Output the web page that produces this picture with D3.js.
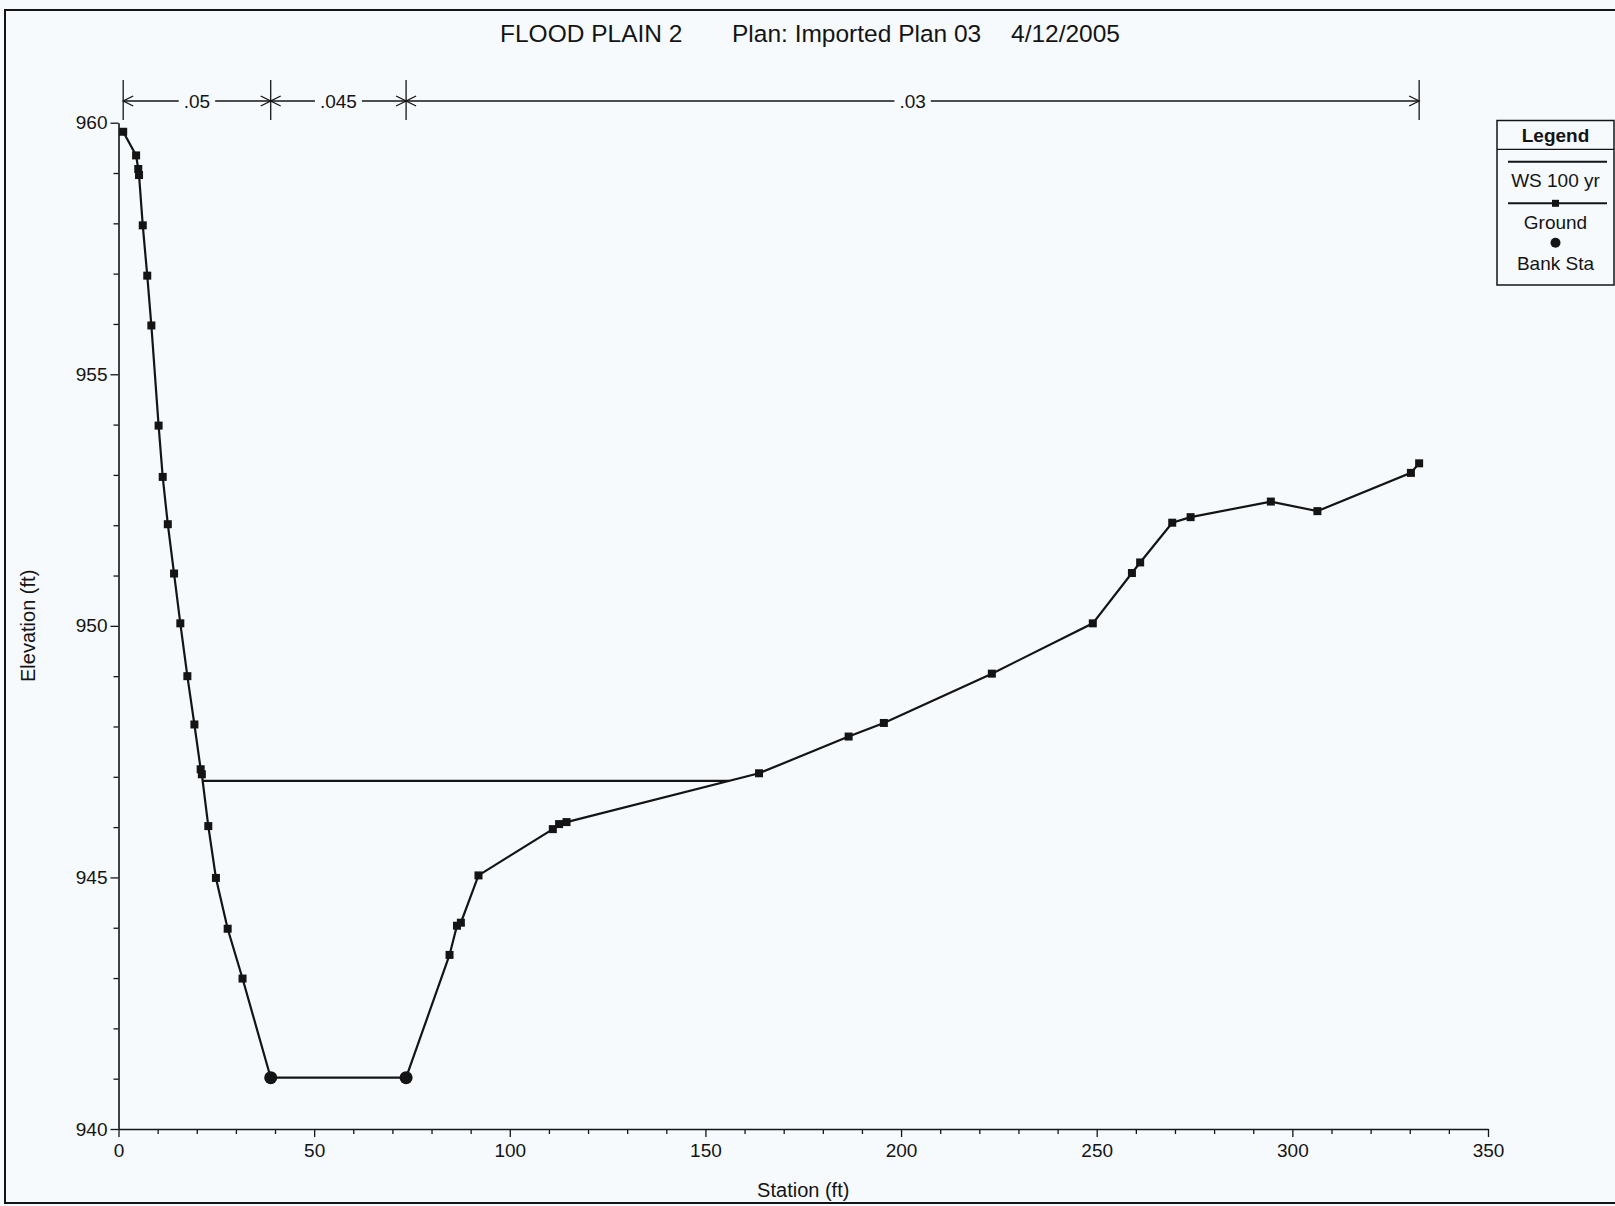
<!DOCTYPE html>
<html>
<head>
<meta charset="utf-8">
<script src="https://cdn.jsdelivr.net/npm/d3@7"></script>
<style>
  html, body { margin: 0; padding: 0; background: #f6fafd; }
  svg { display: block; font-family: "Liberation Sans", Arial, sans-serif; }
</style>
</head>
<body>
<svg id="chart" width="1615" height="1206"></svg>
<script>
// Cross section: station (ft) and ground elevation (ft)
const groundStation = [1.2, 4.5, 5.05, 5.25, 6.2, 7.35, 8.4, 10.25, 11.3, 12.6, 14.2, 15.8, 17.6, 19.4, 21.0, 21.3,
  22.95, 24.9, 27.9, 31.7, 38.9, 73.5, 84.6, 86.5, 87.5, 92.0, 111.0, 112.6, 114.5, 163.7, 186.6, 195.6,
  223.2, 249.0, 259.0, 261.1, 269.3, 274.0, 294.5, 306.4, 330.3, 332.4];
const groundElev = [959.82, 959.35, 959.08, 958.96, 957.96, 956.96, 955.97, 953.98, 952.96, 952.02, 951.04, 950.05, 949.0, 948.04, 947.15, 947.05,
  946.02, 944.99, 943.98, 942.99, 941.02, 941.02, 943.46, 944.04, 944.1, 945.04, 945.96, 946.06, 946.1, 947.07, 947.8, 948.07,
  949.05, 950.05, 951.05, 951.26, 952.05, 952.16, 952.47, 952.28, 953.04, 953.23];

// Bank stations (left, right)
const bankStations = [38.9, 73.5];

// Water surface, 100 yr profile
const wsElev = 946.92;

// Manning's n regions: boundary stations and n values
const nStations = [1.2, 38.9, 73.5, 332.4];
const nValues = [0.05, 0.045, 0.03];

// Axis ticks
const xTicksMajor = [0, 50, 100, 150, 200, 250, 300, 350];
const yTicksMajor = [940, 945, 950, 955, 960];

const titleParts = [
  { text: "FLOOD PLAIN 2", x: 500 },
  { text: "Plan: Imported Plan 03", x: 732 },
  { text: "4/12/2005", x: 1011 }
];

const ink = "#141414";
const bg = "#f6fafd";

const svg = d3.select("#chart");
const W = 1615, H = 1206;

svg.append("rect").attr("width", W).attr("height", H).attr("fill", bg);

// outer frame
svg.append("path")
  .attr("d", "M1615,10 L5,10 L5,1203 L1615,1203")
  .attr("fill", "none").attr("stroke", ink).attr("stroke-width", 2);

const x = d3.scaleLinear().domain([0, 350]).range([118.5, 1488]);
const y = d3.scaleLinear().domain([940, 960]).range([1129, 122.7]);

// title
svg.append("g").selectAll("text").data(titleParts).join("text")
  .attr("x", d => d.x).attr("y", 42)
  .attr("font-size", 24.5).attr("fill", ink)
  .text(d => d.text);

// x axis: minor ticks every 10 ft, major every 50 ft
const xMinor = d3.range(0, 351, 10).filter(v => v % 50 !== 0);
svg.append("g").attr("transform", `translate(0,${y(940)})`)
  .call(d3.axisBottom(x).tickValues(xMinor).tickSize(5).tickFormat(""))
  .call(g => g.select(".domain").remove())
  .call(g => g.selectAll("line").attr("stroke", ink).attr("stroke-width", 1.3));
const xAxis = svg.append("g").attr("transform", `translate(0,${y(940)})`)
  .call(d3.axisBottom(x).tickValues(xTicksMajor).tickSize(8).tickSizeOuter(0).tickPadding(7));
xAxis.select(".domain").attr("stroke", ink).attr("stroke-width", 1.6);
xAxis.selectAll("line").attr("stroke", ink).attr("stroke-width", 1.3);
xAxis.selectAll("text").attr("font-size", 19).attr("fill", ink)
  .attr("font-family", "'Liberation Sans', Arial, sans-serif");

// y axis: minor ticks every 1 ft, major every 5 ft
const yMinor = d3.range(940, 961, 1).filter(v => v % 5 !== 0);
svg.append("g").attr("transform", `translate(${x(0)},0)`)
  .call(d3.axisLeft(y).tickValues(yMinor).tickSize(5).tickFormat(""))
  .call(g => g.select(".domain").remove())
  .call(g => g.selectAll("line").attr("stroke", ink).attr("stroke-width", 1.3));
const yAxis = svg.append("g").attr("transform", `translate(${x(0)},0)`)
  .call(d3.axisLeft(y).tickValues(yTicksMajor).tickSize(8).tickSizeOuter(0).tickPadding(3));
yAxis.select(".domain").attr("stroke", ink).attr("stroke-width", 1.6);
yAxis.selectAll("line").attr("stroke", ink).attr("stroke-width", 1.3);
yAxis.selectAll("text").attr("font-size", 19).attr("fill", ink)
  .attr("font-family", "'Liberation Sans', Arial, sans-serif");

// axis titles
svg.append("text")
  .attr("x", (x(0) + x(350)) / 2).attr("y", 1196.5)
  .attr("text-anchor", "middle").attr("font-size", 20).attr("fill", ink)
  .text("Station (ft)");
svg.append("text")
  .attr("transform", `translate(35,${(y(940) + y(960)) / 2}) rotate(-90)`)
  .attr("text-anchor", "middle").attr("font-size", 20).attr("fill", ink)
  .text("Elevation (ft)");

// Manning's n bar across the top
const nY = 101;
const nBar = svg.append("g").attr("stroke", ink).attr("fill", "none").attr("stroke-width", 1.3);
nStations.forEach(s => {
  nBar.append("line").attr("x1", x(s)).attr("x2", x(s)).attr("y1", 80).attr("y2", 120);
});
nValues.forEach((n, i) => {
  const x1 = x(nStations[i]), x2 = x(nStations[i + 1]);
  const cx = (x1 + x2) / 2;
  const label = svg.append("text")
    .attr("x", cx).attr("y", nY + 7)
    .attr("text-anchor", "middle").attr("font-size", 19).attr("fill", ink)
    .text(String(n).replace(/^0/, ""));
  const w = label.node().getComputedTextLength();
  nBar.append("line").attr("x1", x1).attr("x2", cx - w / 2 - 5).attr("y1", nY).attr("y2", nY);
  nBar.append("line").attr("x1", cx + w / 2 + 5).attr("x2", x2).attr("y1", nY).attr("y2", nY);
  nBar.append("path").attr("d", `M${x1 + 10},${nY - 5} L${x1},${nY} L${x1 + 10},${nY + 5}`);
  nBar.append("path").attr("d", `M${x2 - 10},${nY - 5} L${x2},${nY} L${x2 - 10},${nY + 5}`);
});

// ground profile
const ground = groundStation.map((s, i) => ({ s, e: groundElev[i] }));

// water surface: ends where it meets the ground on each side
function crossings(level) {
  const pts = [];
  for (let i = 0; i < ground.length - 1; i++) {
    const a = ground[i], b = ground[i + 1];
    if ((a.e - level) * (b.e - level) < 0) {
      pts.push(a.s + (level - a.e) / (b.e - a.e) * (b.s - a.s));
    }
  }
  return pts;
}
const wsX = crossings(wsElev);
svg.append("line")
  .attr("x1", x(wsX[0])).attr("x2", x(wsX[wsX.length - 1]))
  .attr("y1", y(wsElev)).attr("y2", y(wsElev))
  .attr("stroke", ink).attr("stroke-width", 2.2);

const line = d3.line().x(d => x(d.s)).y(d => y(d.e));
svg.append("path").datum(ground)
  .attr("d", line).attr("fill", "none").attr("stroke", ink).attr("stroke-width", 2.2);

svg.append("g").selectAll("rect").data(ground.filter(d => !bankStations.includes(d.s))).join("rect")
  .attr("x", d => x(d.s) - 4).attr("y", d => y(d.e) - 4)
  .attr("width", 8).attr("height", 8).attr("fill", ink);

svg.append("g").selectAll("circle").data(ground.filter(d => bankStations.includes(d.s))).join("circle")
  .attr("cx", d => x(d.s)).attr("cy", d => y(d.e)).attr("r", 6.5).attr("fill", ink);

// legend
const lg = svg.append("g");
const lx = 1497, lyTop = 120.5, lw = 117, lh = 164.5, lcx = lx + lw / 2;
lg.append("rect").attr("x", lx).attr("y", lyTop).attr("width", lw).attr("height", lh)
  .attr("fill", bg).attr("stroke", ink).attr("stroke-width", 1.5);
lg.append("line").attr("x1", lx).attr("x2", lx + lw).attr("y1", 149.3).attr("y2", 149.3)
  .attr("stroke", ink).attr("stroke-width", 1.3);
lg.append("text").attr("x", lcx).attr("y", 142).attr("text-anchor", "middle")
  .attr("font-size", 19).attr("font-weight", "bold").attr("fill", ink).text("Legend");
lg.append("line").attr("x1", 1508).attr("x2", 1607).attr("y1", 161.7).attr("y2", 161.7)
  .attr("stroke", ink).attr("stroke-width", 2);
lg.append("text").attr("x", lcx).attr("y", 187).attr("text-anchor", "middle")
  .attr("font-size", 19).attr("fill", ink).text("WS 100 yr");
lg.append("line").attr("x1", 1508).attr("x2", 1607).attr("y1", 203.3).attr("y2", 203.3)
  .attr("stroke", ink).attr("stroke-width", 2);
lg.append("rect").attr("x", lcx - 3.5).attr("y", 203.3 - 3.5).attr("width", 7).attr("height", 7).attr("fill", ink);
lg.append("text").attr("x", lcx).attr("y", 228.6).attr("text-anchor", "middle")
  .attr("font-size", 19).attr("fill", ink).text("Ground");
lg.append("circle").attr("cx", lcx).attr("cy", 242.7).attr("r", 5).attr("fill", ink);
lg.append("text").attr("x", lcx).attr("y", 270).attr("text-anchor", "middle")
  .attr("font-size", 19).attr("fill", ink).text("Bank Sta");
</script>
</body>
</html>
